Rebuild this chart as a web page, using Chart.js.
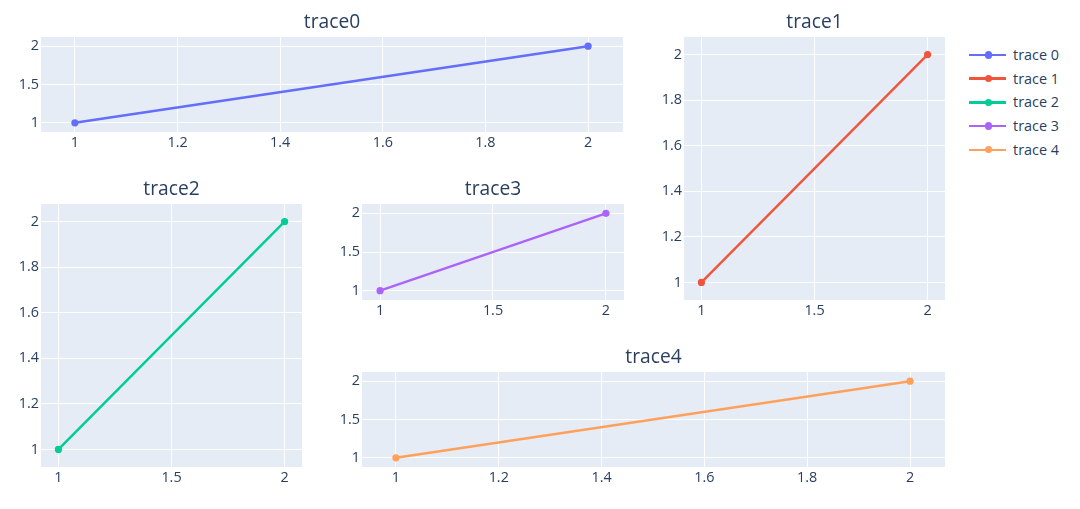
<!DOCTYPE html>
<html>
<head>
<meta charset="utf-8">
<script src="https://cdn.jsdelivr.net/npm/chart.js@4/dist/chart.umd.min.js"></script>
<style>
  body { margin: 0; background: #fff; }
  #wrap { position: relative; width: 1080px; height: 509px; overflow: hidden; font-family: "Open Sans", sans-serif; }
  #wrap canvas { position: absolute; }
  .leg { position: absolute; left: 969px; height: 20px; width: 110px; }
  .leg .ln { position: absolute; left: 0; top: 8.8px; width: 37px; height: 2.4px; }
  .leg .dot { position: absolute; left: 16px; top: 6.4px; width: 7.2px; height: 7.2px; border-radius: 50%; }
  .leg .txt { position: absolute; left: 44px; top: 0; line-height: 20px; font-size: 14.4px; color: #2a3f5f; white-space: nowrap; }
</style>
</head>
<body>
<div id="wrap"></div>
<script>
// dados de cada traço
const xValues = [1, 2];
const trace0 = [1, 2];
const trace1 = [1, 2];
const trace2 = [1, 2];
const trace3 = [1, 2];
const trace4 = [1, 2];
const series = [trace0, trace1, trace2, trace3, trace4];
const traceNames = ['trace 0', 'trace 1', 'trace 2', 'trace 3', 'trace 4'];
const subplotTitles = ['trace0', 'trace1', 'trace2', 'trace3', 'trace4'];

// marcas dos eixos
const ticksFine = [1, 1.2, 1.4, 1.6, 1.8, 2];
const ticksHalf = [1, 1.5, 2];

const colors = ['#636efa', '#EF553B', '#00cc96', '#ab63fa', '#FFA15A'];
const FONT = '"Open Sans", verdana, arial, sans-serif';
const TXT = '#2a3f5f';

// posição de cada área de plotagem (left, top, width, height)
const subplots = [
  { l: 41,  t: 37,  w: 582, h: 95,  xTicks: ticksFine, yTicks: ticksHalf, xr: [0.934, 2.068], yr: [0.88, 2.12] },
  { l: 684, t: 37,  w: 261, h: 263, xTicks: ticksHalf, yTicks: ticksFine, xr: [0.923, 2.077], yr: [0.923, 2.077] },
  { l: 41,  t: 204, w: 261, h: 263, xTicks: ticksHalf, yTicks: ticksFine, xr: [0.923, 2.077], yr: [0.923, 2.077] },
  { l: 362, t: 204, w: 262, h: 96,  xTicks: ticksHalf, yTicks: ticksHalf, xr: [0.92, 2.08],   yr: [0.88, 2.12] },
  { l: 362, t: 372, w: 583, h: 95,  xTicks: ticksFine, yTicks: ticksHalf, xr: [0.934, 2.068], yr: [0.88, 2.12] }
];

const wrap = document.getElementById('wrap');
const Y_W = 40, X_H = 30, TITLE_H = 26;

// fundo azulado da área do gráfico
const bgPlugin = {
  id: 'bg',
  beforeDraw(chart) {
    const a = chart.chartArea;
    chart.ctx.save();
    chart.ctx.fillStyle = '#E5ECF6';
    chart.ctx.fillRect(a.left, a.top, a.right - a.left, a.bottom - a.top);
    chart.ctx.restore();
  }
};

function axisOpts(range, tickVals, isX) {
  return {
    type: 'linear',
    min: range[0],
    max: range[1],
    afterBuildTicks: s => { s.ticks = tickVals.map(v => ({ value: v })); },
    afterFit: s => { if (isX) s.height = X_H; else s.width = Y_W; },
    grid: { color: '#ffffff', lineWidth: 1, drawTicks: false },
    border: { display: false },
    ticks: {
      padding: 2,
      color: TXT,
      font: { family: FONT, size: 14.4 },
      callback: v => String(v)
    }
  };
}

subplots.forEach((cfg, i) => {
  const c = document.createElement('canvas');
  const w = cfg.w + Y_W + 10;
  const h = cfg.h + TITLE_H + X_H;
  c.width = w; c.height = h;
  c.style.width = w + 'px'; c.style.height = h + 'px';
  c.style.left = (cfg.l - Y_W) + 'px';
  c.style.top = (cfg.t - TITLE_H) + 'px';
  wrap.appendChild(c);

  new Chart(c, {
    type: 'line',
    data: {
      datasets: [{
        label: traceNames[i],
        data: xValues.map((x, k) => ({ x: x, y: series[i][k] })),
        borderColor: colors[i],
        backgroundColor: colors[i],
        borderWidth: 2.4,
        pointRadius: 3.6,
        pointHoverRadius: 3.6,
        pointBorderWidth: 0,
        tension: 0
      }]
    },
    options: {
      responsive: false,
      animation: false,
      events: [],
      layout: { padding: { left: 0, right: 10, top: 0, bottom: 0 } },
      plugins: {
        legend: { display: false },
        tooltip: { enabled: false },
        title: {
          display: true,
          fullSize: false,
          text: subplotTitles[i],
          color: TXT,
          font: { family: FONT, size: 19.2, weight: 'normal', lineHeight: 1 },
          padding: { top: 2, bottom: TITLE_H - 19.2 - 2 }
        }
      },
      scales: {
        x: axisOpts(cfg.xr, cfg.xTicks, true),
        y: axisOpts(cfg.yr, cfg.yTicks, false)
      }
    },
    plugins: [bgPlugin]
  });
});

// legenda
traceNames.forEach((name, i) => {
  const d = document.createElement('div');
  d.className = 'leg';
  d.style.top = (55 + 23.7 * i - 10) + 'px';
  d.innerHTML = '<div class="ln" style="background:' + colors[i] + '"></div>' +
    '<div class="dot" style="background:' + colors[i] + '"></div>' +
    '<div class="txt">' + name + '</div>';
  wrap.appendChild(d);
});
</script>
</body>
</html>
